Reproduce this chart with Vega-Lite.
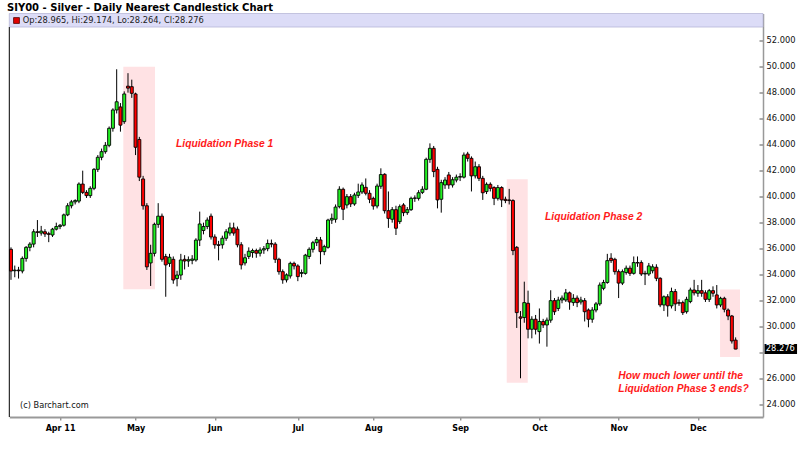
{
  "$schema": "https://vega.github.io/schema/vega-lite/v6.json",
  "width": 753.7,
  "height": 403.5,
  "autosize": {"type": "none"},
  "padding": {"left": 9.3, "top": 13.5, "right": 37, "bottom": 37.0},
  "background": "white",
  "config": {"view": {"stroke": null}, "font": "DejaVu Sans", "scale": {"continuousPadding": 0}, "axis": {"labelOverlap": false, "labelFlush": false, "grid": false, "title": null}},
  "datasets": {
    "candles": [
      {"i":0,"o":35.95,"h":36.1,"l":33.6,"c":34.28},
      {"i":1,"o":34.3,"h":34.7,"l":33.8,"c":34.35},
      {"i":2,"o":34.35,"h":34.6,"l":33.7,"c":34.3},
      {"i":3,"o":34.28,"h":35.4,"l":34.1,"c":35.25},
      {"i":4,"o":35.25,"h":36.2,"l":35.0,"c":36.1},
      {"i":5,"o":36.1,"h":36.5,"l":35.8,"c":36.35},
      {"i":6,"o":36.35,"h":37.5,"l":36.1,"c":37.3},
      {"i":7,"o":37.3,"h":38.2,"l":36.9,"c":37.25},
      {"i":8,"o":37.2,"h":37.75,"l":37.0,"c":37.35},
      {"i":9,"o":37.3,"h":37.5,"l":36.9,"c":37.13},
      {"i":10,"o":37.15,"h":37.3,"l":36.5,"c":37.1},
      {"i":11,"o":37.05,"h":37.6,"l":36.9,"c":37.5},
      {"i":12,"o":37.5,"h":38.0,"l":37.4,"c":37.7},
      {"i":13,"o":37.7,"h":37.9,"l":37.5,"c":37.8},
      {"i":14,"o":37.8,"h":38.7,"l":37.7,"c":38.6},
      {"i":15,"o":38.6,"h":39.5,"l":38.5,"c":39.3},
      {"i":16,"o":39.3,"h":39.75,"l":39.1,"c":39.6},
      {"i":17,"o":39.6,"h":39.8,"l":39.4,"c":39.7},
      {"i":18,"o":39.66,"h":41.1,"l":39.5,"c":40.97},
      {"i":19,"o":40.97,"h":42.0,"l":40.2,"c":40.33},
      {"i":20,"o":40.33,"h":40.5,"l":39.9,"c":40.08},
      {"i":21,"o":40.08,"h":40.8,"l":39.9,"c":40.64},
      {"i":22,"o":40.64,"h":42.2,"l":40.5,"c":42.1},
      {"i":23,"o":42.1,"h":43.2,"l":41.9,"c":43.03},
      {"i":24,"o":43.03,"h":43.7,"l":42.8,"c":43.46},
      {"i":25,"o":43.46,"h":44.2,"l":43.3,"c":43.95},
      {"i":26,"o":43.95,"h":45.4,"l":43.8,"c":45.26},
      {"i":27,"o":45.26,"h":46.8,"l":45.0,"c":46.67},
      {"i":28,"o":46.67,"h":49.8,"l":46.4,"c":47.3},
      {"i":29,"o":46.9,"h":47.2,"l":45.0,"c":45.5},
      {"i":30,"o":45.77,"h":48.1,"l":45.6,"c":47.9},
      {"i":31,"o":48.5,"h":49.5,"l":48.0,"c":48.35},
      {"i":32,"o":48.46,"h":49.0,"l":47.6,"c":47.95},
      {"i":33,"o":47.9,"h":48.0,"l":43.2,"c":43.8},
      {"i":34,"o":44.4,"h":44.6,"l":41.2,"c":41.5},
      {"i":35,"o":41.36,"h":41.6,"l":39.0,"c":39.3},
      {"i":36,"o":39.3,"h":39.5,"l":34.36,"c":34.6},
      {"i":37,"o":34.9,"h":36.3,"l":33.13,"c":35.64},
      {"i":38,"o":35.64,"h":38.0,"l":35.4,"c":37.87},
      {"i":39,"o":37.87,"h":39.5,"l":37.6,"c":38.5},
      {"i":40,"o":38.5,"h":38.7,"l":35.0,"c":35.18},
      {"i":41,"o":35.39,"h":35.6,"l":32.3,"c":34.75},
      {"i":42,"o":34.87,"h":35.6,"l":34.6,"c":35.34},
      {"i":43,"o":35.18,"h":35.4,"l":33.3,"c":33.59},
      {"i":44,"o":33.7,"h":34.3,"l":33.1,"c":33.97},
      {"i":45,"o":33.97,"h":35.6,"l":33.6,"c":35.13},
      {"i":46,"o":35.18,"h":35.5,"l":34.4,"c":35.05},
      {"i":47,"o":35.05,"h":35.4,"l":34.6,"c":35.15},
      {"i":48,"o":35.1,"h":35.5,"l":34.8,"c":35.2},
      {"i":49,"o":35.13,"h":36.8,"l":35.0,"c":36.66},
      {"i":50,"o":36.66,"h":38.85,"l":36.2,"c":37.9},
      {"i":51,"o":37.4,"h":38.0,"l":37.1,"c":37.7},
      {"i":52,"o":37.7,"h":38.4,"l":37.5,"c":38.2},
      {"i":53,"o":38.5,"h":38.7,"l":36.7,"c":36.9},
      {"i":54,"o":36.9,"h":37.1,"l":36.0,"c":36.3},
      {"i":55,"o":36.3,"h":36.6,"l":35.1,"c":36.25},
      {"i":56,"o":36.3,"h":37.0,"l":36.0,"c":36.8},
      {"i":57,"o":36.8,"h":37.5,"l":36.6,"c":37.3},
      {"i":58,"o":37.2,"h":38.0,"l":37.0,"c":37.6},
      {"i":59,"o":37.6,"h":38.0,"l":37.0,"c":37.2},
      {"i":60,"o":37.5,"h":37.7,"l":36.1,"c":36.3},
      {"i":61,"o":36.3,"h":36.5,"l":34.4,"c":34.75},
      {"i":62,"o":34.9,"h":35.6,"l":34.7,"c":35.3},
      {"i":63,"o":35.4,"h":36.1,"l":35.2,"c":35.8},
      {"i":64,"o":35.7,"h":36.0,"l":35.3,"c":35.85},
      {"i":65,"o":35.85,"h":36.0,"l":35.3,"c":35.65},
      {"i":66,"o":35.65,"h":36.1,"l":35.4,"c":35.9},
      {"i":67,"o":35.9,"h":36.2,"l":35.6,"c":36.0},
      {"i":68,"o":36.0,"h":36.7,"l":35.8,"c":36.4},
      {"i":69,"o":36.4,"h":36.7,"l":36.1,"c":36.35},
      {"i":70,"o":36.35,"h":36.5,"l":34.9,"c":35.18},
      {"i":71,"o":35.18,"h":35.3,"l":34.0,"c":34.23},
      {"i":72,"o":34.23,"h":34.4,"l":33.3,"c":33.6},
      {"i":73,"o":33.6,"h":34.1,"l":33.4,"c":33.98},
      {"i":74,"o":33.9,"h":35.0,"l":33.7,"c":34.87},
      {"i":75,"o":34.87,"h":35.0,"l":34.4,"c":34.67},
      {"i":76,"o":34.67,"h":34.8,"l":33.5,"c":33.85},
      {"i":77,"o":34.1,"h":34.4,"l":33.8,"c":34.16},
      {"i":78,"o":34.1,"h":35.6,"l":34.0,"c":35.5},
      {"i":79,"o":35.4,"h":36.1,"l":35.2,"c":35.95},
      {"i":80,"o":35.95,"h":36.6,"l":35.7,"c":36.46},
      {"i":81,"o":36.46,"h":36.9,"l":36.2,"c":36.7},
      {"i":82,"o":36.67,"h":36.9,"l":34.8,"c":35.77},
      {"i":83,"o":35.77,"h":36.3,"l":35.5,"c":36.16},
      {"i":84,"o":36.1,"h":38.3,"l":36.0,"c":38.2},
      {"i":85,"o":38.2,"h":38.7,"l":37.9,"c":38.33},
      {"i":86,"o":38.26,"h":39.4,"l":38.0,"c":39.2},
      {"i":87,"o":39.23,"h":40.8,"l":39.1,"c":40.57},
      {"i":88,"o":40.57,"h":40.7,"l":38.2,"c":39.03},
      {"i":89,"o":39.36,"h":40.2,"l":39.1,"c":40.0},
      {"i":90,"o":40.0,"h":40.2,"l":39.2,"c":39.44},
      {"i":91,"o":39.44,"h":40.3,"l":39.3,"c":40.13},
      {"i":92,"o":40.1,"h":41.0,"l":39.9,"c":40.36},
      {"i":93,"o":40.36,"h":41.1,"l":40.2,"c":40.9},
      {"i":94,"o":40.72,"h":41.4,"l":40.1,"c":40.26},
      {"i":95,"o":40.26,"h":40.5,"l":39.5,"c":39.8},
      {"i":96,"o":39.87,"h":40.0,"l":39.0,"c":39.28},
      {"i":97,"o":39.28,"h":41.0,"l":39.1,"c":40.82},
      {"i":98,"o":40.8,"h":42.18,"l":40.6,"c":41.7},
      {"i":99,"o":41.72,"h":41.8,"l":38.7,"c":38.92},
      {"i":100,"o":38.92,"h":40.4,"l":37.6,"c":38.33},
      {"i":101,"o":38.26,"h":39.2,"l":38.0,"c":39.0},
      {"i":102,"o":39.0,"h":39.3,"l":37.05,"c":37.57},
      {"i":103,"o":38.08,"h":39.4,"l":37.9,"c":39.23},
      {"i":104,"o":39.36,"h":39.5,"l":38.5,"c":38.77},
      {"i":105,"o":38.77,"h":39.2,"l":38.6,"c":39.0},
      {"i":106,"o":39.0,"h":40.0,"l":38.9,"c":39.87},
      {"i":107,"o":39.87,"h":40.1,"l":39.6,"c":39.9},
      {"i":108,"o":39.87,"h":40.5,"l":39.7,"c":40.3},
      {"i":109,"o":40.33,"h":40.8,"l":40.2,"c":40.57},
      {"i":110,"o":40.57,"h":43.0,"l":40.5,"c":42.87},
      {"i":111,"o":42.87,"h":44.1,"l":42.6,"c":43.72},
      {"i":112,"o":43.72,"h":43.9,"l":41.5,"c":41.93},
      {"i":113,"o":42.1,"h":42.3,"l":39.1,"c":39.75},
      {"i":114,"o":39.8,"h":41.3,"l":38.77,"c":41.08},
      {"i":115,"o":40.9,"h":41.5,"l":40.6,"c":41.28},
      {"i":116,"o":41.67,"h":41.9,"l":40.6,"c":40.9},
      {"i":117,"o":40.9,"h":41.5,"l":40.7,"c":41.3},
      {"i":118,"o":41.28,"h":41.7,"l":41.1,"c":41.5},
      {"i":119,"o":41.5,"h":41.8,"l":41.2,"c":41.55},
      {"i":120,"o":41.5,"h":43.4,"l":41.4,"c":43.2},
      {"i":121,"o":43.28,"h":43.45,"l":42.7,"c":42.95},
      {"i":122,"o":42.95,"h":43.1,"l":40.4,"c":41.6},
      {"i":123,"o":41.6,"h":42.7,"l":41.4,"c":42.3},
      {"i":124,"o":42.3,"h":42.5,"l":41.2,"c":41.41},
      {"i":125,"o":41.41,"h":41.6,"l":39.75,"c":40.3},
      {"i":126,"o":40.39,"h":41.1,"l":40.2,"c":40.95},
      {"i":127,"o":40.95,"h":41.1,"l":40.4,"c":40.64},
      {"i":128,"o":40.7,"h":40.8,"l":39.35,"c":39.87},
      {"i":129,"o":39.87,"h":40.9,"l":39.7,"c":40.7},
      {"i":130,"o":40.7,"h":40.8,"l":39.2,"c":39.75},
      {"i":131,"o":39.8,"h":40.0,"l":39.5,"c":39.7},
      {"i":132,"o":39.75,"h":40.6,"l":39.4,"c":39.7},
      {"i":133,"o":39.7,"h":39.8,"l":35.5,"c":35.85},
      {"i":134,"o":36.1,"h":36.2,"l":29.9,"c":31.08},
      {"i":135,"o":30.75,"h":31.2,"l":26.03,"c":30.65},
      {"i":136,"o":30.7,"h":33.46,"l":30.3,"c":31.85},
      {"i":137,"o":31.8,"h":32.77,"l":29.1,"c":29.8},
      {"i":138,"o":29.8,"h":30.8,"l":29.1,"c":30.57},
      {"i":139,"o":30.57,"h":30.9,"l":29.4,"c":29.8},
      {"i":140,"o":29.62,"h":31.4,"l":28.7,"c":30.4},
      {"i":141,"o":30.4,"h":30.6,"l":29.9,"c":30.13},
      {"i":142,"o":30.13,"h":30.7,"l":28.46,"c":30.5},
      {"i":143,"o":30.5,"h":32.8,"l":30.3,"c":32.0},
      {"i":144,"o":32.0,"h":32.2,"l":30.9,"c":31.15},
      {"i":145,"o":31.4,"h":32.3,"l":31.2,"c":32.05},
      {"i":146,"o":32.05,"h":32.4,"l":31.8,"c":32.2},
      {"i":147,"o":32.05,"h":32.9,"l":31.9,"c":32.6},
      {"i":148,"o":32.6,"h":32.7,"l":31.3,"c":31.9},
      {"i":149,"o":31.85,"h":32.5,"l":31.6,"c":32.18},
      {"i":150,"o":32.2,"h":32.4,"l":31.5,"c":31.85},
      {"i":151,"o":31.9,"h":32.3,"l":31.7,"c":32.05},
      {"i":152,"o":32.0,"h":32.2,"l":30.4,"c":31.15},
      {"i":153,"o":31.28,"h":31.4,"l":29.95,"c":30.57},
      {"i":154,"o":30.57,"h":31.5,"l":30.3,"c":31.28},
      {"i":155,"o":31.28,"h":31.9,"l":31.1,"c":31.75},
      {"i":156,"o":31.75,"h":33.4,"l":31.6,"c":33.2},
      {"i":157,"o":32.95,"h":33.6,"l":32.8,"c":33.4},
      {"i":158,"o":33.4,"h":35.6,"l":33.3,"c":35.08},
      {"i":159,"o":35.26,"h":35.65,"l":34.9,"c":35.08},
      {"i":160,"o":35.18,"h":35.3,"l":34.0,"c":34.23},
      {"i":161,"o":34.23,"h":34.4,"l":32.2,"c":33.35},
      {"i":162,"o":33.35,"h":34.4,"l":33.2,"c":34.23},
      {"i":163,"o":34.16,"h":34.7,"l":34.0,"c":34.5},
      {"i":164,"o":34.5,"h":34.7,"l":33.9,"c":34.1},
      {"i":165,"o":34.1,"h":35.4,"l":34.0,"c":34.93},
      {"i":166,"o":34.93,"h":35.4,"l":34.6,"c":34.9},
      {"i":167,"o":34.93,"h":35.1,"l":33.9,"c":34.05},
      {"i":168,"o":34.05,"h":34.3,"l":33.2,"c":34.1},
      {"i":169,"o":34.05,"h":34.9,"l":33.9,"c":34.67},
      {"i":170,"o":34.3,"h":34.8,"l":34.1,"c":34.6},
      {"i":171,"o":34.57,"h":34.8,"l":33.5,"c":33.72},
      {"i":172,"o":33.72,"h":33.8,"l":31.5,"c":31.67},
      {"i":173,"o":31.67,"h":32.4,"l":31.2,"c":32.3},
      {"i":174,"o":32.3,"h":32.5,"l":30.77,"c":31.6},
      {"i":175,"o":31.6,"h":33.0,"l":31.4,"c":32.7},
      {"i":176,"o":32.7,"h":32.9,"l":31.2,"c":31.75},
      {"i":177,"o":31.85,"h":32.1,"l":31.6,"c":31.8},
      {"i":178,"o":31.85,"h":32.0,"l":30.9,"c":31.08},
      {"i":179,"o":31.15,"h":32.3,"l":31.0,"c":32.1},
      {"i":180,"o":31.93,"h":33.0,"l":31.8,"c":32.82},
      {"i":181,"o":32.82,"h":33.6,"l":32.4,"c":32.6},
      {"i":182,"o":32.57,"h":33.2,"l":32.3,"c":32.77},
      {"i":183,"o":32.77,"h":33.6,"l":32.3,"c":32.57},
      {"i":184,"o":32.6,"h":32.8,"l":31.9,"c":32.1},
      {"i":185,"o":32.1,"h":32.9,"l":31.9,"c":32.77},
      {"i":186,"o":32.77,"h":33.1,"l":32.3,"c":32.57},
      {"i":187,"o":32.44,"h":33.2,"l":31.4,"c":31.67},
      {"i":188,"o":31.67,"h":32.3,"l":31.5,"c":32.18},
      {"i":189,"o":32.18,"h":32.3,"l":31.1,"c":31.34},
      {"i":190,"o":31.28,"h":31.4,"l":30.5,"c":30.82},
      {"i":191,"o":30.82,"h":30.9,"l":28.7,"c":28.9},
      {"i":192,"o":28.965,"h":29.174,"l":28.264,"c":28.276}
    ],
    "zones": [
      {"phase":"Phase 1","x1":29.76,"x2":38.16,"y1":32.88,"y2":50.0},
      {"phase":"Phase 2","x1":131.35,"x2":136.91,"y1":25.69,"y2":41.34},
      {"phase":"Phase 3","x1":187.87,"x2":193.16,"y1":27.67,"y2":32.86}
    ]
  },
  "layer": [
    {
      "data": {"name": "candles"},
      "mark": {"type": "rule", "stroke": "#000", "strokeWidth": 1, "opacity": 0},
      "encoding": {
        "x": {"field": "i", "type": "quantitative", "scale": {"domain": [-0.45, 199.25], "nice": false, "zero": false, "padding": 0}, "axis": {"values": [13,33,54,76,96,119,140,161,182], "tickCount": 30, "labelExpr": "datum.value == 13 ? 'Apr 11' : datum.value == 33 ? 'May' : datum.value == 54 ? 'Jun' : datum.value == 76 ? 'Jul' : datum.value == 96 ? 'Aug' : datum.value == 119 ? 'Sep' : datum.value == 140 ? 'Oct' : datum.value == 161 ? 'Nov' : 'Dec'", "labelFont": "DejaVu Sans", "labelFontWeight": "bold", "labelFontSize": 8, "labelColor": "#000", "tickSize": 3, "tickColor": "#666", "domainColor": "#999", "domainWidth": 2, "labelPadding": 4, "grid": false, "title": null, "labelFlush": false, "labelOverlap": false}},
        "y": {"field": "l", "type": "quantitative", "scale": {"domain": [23.05, 54.09], "nice": false, "zero": false, "padding": 0}, "axis": {"orient": "right", "values": [24,26,28,30,32,34,36,38,40,42,44,46,48,50,52], "tickCount": 30, "labelExpr": "datum.value == 28 ? '' : format(datum.value, '.3f')", "labelFont": "DejaVu Sans", "labelFontSize": 8.3, "labelColor": "#111", "tickSize": -4, "tickColor": "#555", "domainColor": "#999", "domainWidth": 1.5, "labelPadding": 7, "grid": false, "title": null, "labelFlush": false, "labelOverlap": false}},
        "y2": {"field": "h"}
      }
    },
    {
      "data": {"name": "zones"},
      "mark": {"type": "rect", "fill": "#ffe2e4"},
      "encoding": {
        "x": {"field": "x1", "type": "quantitative"},
        "x2": {"field": "x2"},
        "y": {"field": "y1", "type": "quantitative"},
        "y2": {"field": "y2"}
      }
    },
    {
      "data": {"values": [{}]},
      "mark": {"type": "rect", "fill": "#dcdcf7", "stroke": "#b8b8d8", "strokeWidth": 0.8},
      "encoding": {
        "x": {"datum": -0.45, "type": "quantitative"},
        "x2": {"datum": 199.25},
        "y": {"datum": 54.09, "type": "quantitative"},
        "y2": {"datum": 53.05}
      }
    },
    {
      "data": {"values": [{}]},
      "mark": {"type": "point", "shape": "square", "filled": true, "size": 34, "fill": "#e00000", "stroke": "#500000", "strokeWidth": 0.8, "opacity": 1},
      "encoding": {
        "x": {"datum": 1.46, "type": "quantitative"},
        "y": {"datum": 53.55, "type": "quantitative"}
      }
    },
    {
      "data": {"values": [{}]},
      "mark": {"type": "text", "text": "Op:28.965, Hi:29.174, Lo:28.264, Cl:28.276", "align": "left", "baseline": "middle", "font": "DejaVu Sans", "fontSize": 8.3, "fill": "#222"},
      "encoding": {
        "x": {"datum": 3.1, "type": "quantitative"},
        "y": {"datum": 53.55, "type": "quantitative"}
      }
    },
    {
      "data": {"values": [{}]},
      "mark": {"type": "text", "text": "SIY00 - Silver - Daily Nearest Candlestick Chart", "align": "left", "baseline": "alphabetic", "font": "DejaVu Sans", "fontSize": 10, "fontWeight": "bold", "fill": "#000"},
      "encoding": {
        "x": {"datum": -1.06, "type": "quantitative"},
        "y": {"datum": 54.32, "type": "quantitative"}
      }
    },
    {
      "data": {"values": [{}]},
      "mark": {"type": "rule", "stroke": "#000", "strokeWidth": 1},
      "encoding": {
        "x": {"datum": -0.45, "type": "quantitative"},
        "y": {"datum": 23.05, "type": "quantitative"},
        "y2": {"datum": 53.05}
      }
    },
    {
      "data": {"name": "candles"},
      "mark": {"type": "rule", "stroke": "#000", "strokeWidth": 1},
      "encoding": {
        "x": {"field": "i", "type": "quantitative"},
        "y": {"field": "l", "type": "quantitative"},
        "y2": {"field": "h"}
      }
    },
    {
      "data": {"name": "candles"},
      "mark": {"type": "bar", "width": 3.0, "stroke": "#000", "strokeWidth": 0.9},
      "encoding": {
        "x": {"field": "i", "type": "quantitative"},
        "y": {"field": "o", "type": "quantitative"},
        "y2": {"field": "c"},
        "fill": {"condition": {"test": "datum.c < datum.o", "value": "#ff0000"}, "value": "#22f022"}
      }
    },
    {
      "data": {"name": "candles"},
      "transform": [{"filter": "datum.i == 192"}],
      "mark": {"type": "rect", "fill": "#000"},
      "encoding": {
        "x": {"datum": 199.66, "type": "quantitative"},
        "x2": {"datum": 208.27},
        "y": {"datum": 28.67, "type": "quantitative"},
        "y2": {"datum": 27.9}
      }
    },
    {
      "data": {"name": "candles"},
      "transform": [{"filter": "datum.i == 192"}],
      "mark": {"type": "text", "align": "left", "baseline": "middle", "font": "DejaVu Sans", "fontSize": 8.3, "fill": "#fff"},
      "encoding": {
        "x": {"datum": 200.0, "type": "quantitative"},
        "y": {"field": "c", "type": "quantitative"},
        "text": {"field": "c", "type": "quantitative", "format": ".3f"}
      }
    },
    {
      "data": {"values": [{}]},
      "mark": {"type": "text", "text": "Liquidation Phase 1", "align": "left", "baseline": "middle", "font": "Liberation Sans", "fontSize": 10.3, "fontWeight": "bold", "fontStyle": "italic", "fill": "#ff1a1a"},
      "encoding": {
        "x": {"datum": 43.72, "type": "quantitative"},
        "y": {"datum": 44.05, "type": "quantitative"}
      }
    },
    {
      "data": {"values": [{}]},
      "mark": {"type": "text", "text": "Liquidation Phase 2", "align": "left", "baseline": "middle", "font": "Liberation Sans", "fontSize": 10.3, "fontWeight": "bold", "fontStyle": "italic", "fill": "#ff1a1a"},
      "encoding": {
        "x": {"datum": 141.49, "type": "quantitative"},
        "y": {"datum": 38.42, "type": "quantitative"}
      }
    },
    {
      "data": {"values": [{}]},
      "mark": {"type": "text", "text": "How much lower until the", "align": "left", "baseline": "middle", "font": "Liberation Sans", "fontSize": 10.3, "fontWeight": "bold", "fontStyle": "italic", "fill": "#ff1a1a"},
      "encoding": {
        "x": {"datum": 160.92, "type": "quantitative"},
        "y": {"datum": 26.23, "type": "quantitative"}
      }
    },
    {
      "data": {"values": [{}]},
      "mark": {"type": "text", "text": "Liquidation Phase 3 ends?", "align": "left", "baseline": "middle", "font": "Liberation Sans", "fontSize": 10.3, "fontWeight": "bold", "fontStyle": "italic", "fill": "#ff1a1a"},
      "encoding": {
        "x": {"datum": 160.92, "type": "quantitative"},
        "y": {"datum": 25.21, "type": "quantitative"}
      }
    },
    {
      "data": {"values": [{}]},
      "mark": {"type": "text", "text": "(c) Barchart.com", "align": "left", "baseline": "middle", "font": "DejaVu Sans", "fontSize": 8.2, "fill": "#111"},
      "encoding": {
        "x": {"datum": 2.39, "type": "quantitative"},
        "y": {"datum": 23.92, "type": "quantitative"}
      }
    }
  ]
}
